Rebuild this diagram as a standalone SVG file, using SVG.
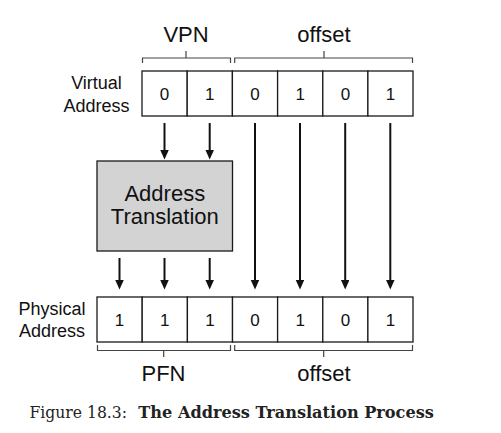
<svg xmlns="http://www.w3.org/2000/svg" width="501" height="433" viewBox="0 0 501 433">
<style>
.cell{fill:#fff;stroke:#1a1a1a;stroke-width:1.3}
.dig{font-family:"Liberation Sans",Arial,sans-serif;font-size:17px;fill:#111;text-anchor:middle}
.lbl{font-family:"Liberation Sans",Arial,sans-serif;font-size:18px;fill:#111;text-anchor:middle}
.big{font-family:"Liberation Sans",Arial,sans-serif;font-size:22px;fill:#111;text-anchor:middle}
.brace{fill:none;stroke:#444;stroke-width:1.2}
.arr{stroke:#111;stroke-width:2;fill:none;marker-end:url(#ah)}
.cap{font-family:"DejaVu Serif","Liberation Serif",serif;font-size:16px;fill:#222}
</style>
<defs>
<marker id="ah" markerUnits="userSpaceOnUse" markerWidth="10" markerHeight="10" refX="1" refY="4.25" orient="auto" viewBox="0 0 10 10">
<path d="M0,0 L9.5,4.25 L0,8.5 z" fill="#111"/>
</marker>
</defs>
<rect width="501" height="433" fill="#fff"/>
<g id="virtual-address">
<text class="lbl" x="96.5" y="89">Virtual</text>
<text class="lbl" x="96.5" y="112">Address</text>
<rect class="cell" x="142" y="71" width="45.2" height="45"/>
<rect class="cell" x="187.2" y="71" width="45.2" height="45"/>
<rect class="cell" x="232.4" y="71" width="45.2" height="45"/>
<rect class="cell" x="277.6" y="71" width="45.2" height="45"/>
<rect class="cell" x="322.8" y="71" width="45.1" height="45"/>
<rect class="cell" x="367.9" y="71" width="45.1" height="45"/>
<text class="dig" x="164.6" y="100">0</text>
<text class="dig" x="209.8" y="100">1</text>
<text class="dig" x="255" y="100">0</text>
<text class="dig" x="300.2" y="100">1</text>
<text class="dig" x="345.4" y="100">0</text>
<text class="dig" x="390.5" y="100">1</text>
</g>
<g id="vpn-brace">
<path class="brace" d="M142.5,63 V58 H230.5 V63 M186,58 V51"/>
<text class="big" x="186" y="42">VPN</text>
</g>
<g id="offset-brace-top">
<path class="brace" d="M234.7,63 V58 H412.5 V63 M324,58 V51"/>
<text class="big" x="324" y="42">offset</text>
</g>
<g id="address-translation">
<rect x="97" y="161" width="135.5" height="90" fill="#d3d3d3" stroke="#1a1a1a" stroke-width="1.3"/>
<text class="big" x="164.8" y="201">Address</text>
<text class="big" x="164.8" y="223.5">Translation</text>
</g>
<g id="physical-address">
<text class="lbl" x="52" y="315">Physical</text>
<text class="lbl" x="52" y="336.5">Address</text>
<rect class="cell" x="97" y="297" width="45.2" height="45"/>
<rect class="cell" x="142.2" y="297" width="45.2" height="45"/>
<rect class="cell" x="187.4" y="297" width="45.1" height="45"/>
<rect class="cell" x="232.5" y="297" width="45.1" height="45"/>
<rect class="cell" x="277.6" y="297" width="45.2" height="45"/>
<rect class="cell" x="322.8" y="297" width="45.1" height="45"/>
<rect class="cell" x="367.9" y="297" width="45.1" height="45"/>
<text class="dig" x="119.6" y="325.5">1</text>
<text class="dig" x="164.8" y="325.5">1</text>
<text class="dig" x="210" y="325.5">1</text>
<text class="dig" x="255" y="325.5">0</text>
<text class="dig" x="300.2" y="325.5">1</text>
<text class="dig" x="345.4" y="325.5">0</text>
<text class="dig" x="390.5" y="325.5">1</text>
</g>
<g id="pfn-brace">
<path class="brace" d="M97.5,345 V350.5 H230.5 V345 M163.7,350.5 V357"/>
<text class="big" x="163.5" y="381">PFN</text>
</g>
<g id="offset-brace-bottom">
<path class="brace" d="M234.7,345 V350.5 H412.5 V345 M323.7,350.5 V357"/>
<text class="big" x="324" y="381">offset</text>
</g>
<g id="connectors">
<line class="arr" x1="164.5" y1="123" x2="164.5" y2="151"/>
<line class="arr" x1="209.7" y1="123" x2="209.7" y2="151"/>
<line class="arr" x1="119.5" y1="258" x2="119.5" y2="281"/>
<line class="arr" x1="164.5" y1="258" x2="164.5" y2="281"/>
<line class="arr" x1="209.7" y1="258" x2="209.7" y2="281"/>
<line class="arr" x1="255" y1="123" x2="255" y2="281"/>
<line class="arr" x1="300" y1="123" x2="300" y2="281"/>
<line class="arr" x1="345.2" y1="123" x2="345.2" y2="281"/>
<line class="arr" x1="390.3" y1="123" x2="390.3" y2="281"/>
</g>
<g id="caption">
<text class="cap" x="29.5" y="418.3" textLength="97.5" lengthAdjust="spacingAndGlyphs">Figure 18.3:</text>
<text class="cap" x="138.3" y="418.3" font-weight="bold" textLength="295.5" lengthAdjust="spacingAndGlyphs">The Address Translation Process</text>
</g>
</svg>
